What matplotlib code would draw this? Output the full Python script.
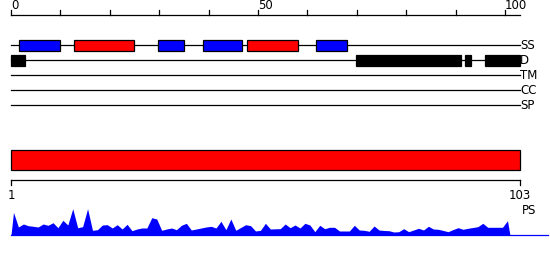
import numpy as np
import matplotlib
matplotlib.use("Agg")
import matplotlib.pyplot as plt
from matplotlib.patches import Rectangle

plt.rcParams["font.family"] = ["Liberation Sans Narrow", "DejaVu Sans"]

seq_len = 103

# secondary structure (SS) segments: start, end, colour
ss_start = [1.6, 12.8, 29.8, 38.9, 47.8, 61.7]
ss_end = [9.9, 24.9, 35.0, 46.8, 58.1, 68.0]
ss_color = ["blue", "red", "blue", "blue", "red", "blue"]

# disorder (D) segments
d_start = [0.0, 69.8, 91.9, 96.0]
d_end = [2.8, 91.1, 93.1, 103.0]

track_names = ["SS", "D", "TM", "CC", "SP"]
track_y = [45, 60, 75, 90, 105]

top_ticks = [0, 10, 20, 30, 40, 50, 60, 70, 80, 90, 100]
top_labels = ["0", "50", "100"]

# per-residue profile (PS), residues 1..101
ps_values = [22.7, 8, 11, 9.3, 8.7, 8, 11, 9.7, 12.3, 7.3,
             14.7, 10, 26.3, 7.3, 8.3, 26.3, 4.7, 5.3, 10, 10.3,
             7, 10.3, 6, 10.7, 4.3, 6, 7, 7, 17.3, 16,
             4.7, 6, 7, 5.3, 9.7, 11.7, 5, 6, 7, 8,
             8.7, 7, 13.7, 5.3, 16, 4.7, 7.5, 10.3, 9.3, 4,
             4.7, 11.7, 6, 6.2, 6.3, 11, 7.3, 10, 7, 11.7,
             10, 3.3, 9.7, 6.3, 7.7, 7.7, 4, 4, 4, 9.7,
             5, 4.7, 3.7, 9, 5, 4.5, 4.3, 3, 3.3, 6.3,
             3.3, 5, 6.7, 5, 8.7, 6, 5.7, 4.5, 3.3, 5.5,
             7.3, 5.7, 6.7, 7.5, 8.3, 11.7, 7.7, 7.7, 7.7, 7.7,
             14.3]

fig = plt.figure(figsize=(5.5, 2.6), dpi=100)
ax = fig.add_axes([0, 0, 1, 1])
scale = 4.94
ax.set_xlim(-11 / scale, (550 - 11) / scale)
ax.set_ylim(260, 0)
ax.axis("off")
lw = 0.9
fs = 8.5

# top ruler
ax.plot([0, seq_len], [15, 15], color="black", lw=lw)
for t in top_ticks:
    ax.plot([t, t], [10, 15], color="black", lw=lw)
for lab in top_labels:
    ax.text(int(lab), 12, lab, ha="left", va="bottom", fontsize=fs)

# tracks
for name, y in zip(track_names, track_y):
    ax.plot([0, seq_len], [y, y], color="black", lw=lw, zorder=1)
    ax.text(seq_len + 0.1, y + 0.5, name, ha="left", va="center", fontsize=fs)

for s, e, c in zip(ss_start, ss_end, ss_color):
    ax.add_patch(Rectangle((s, 40), e - s, 11, facecolor=c, edgecolor="black", lw=lw, zorder=2))
for s, e in zip(d_start, d_end):
    ax.add_patch(Rectangle((s, 55), e - s, 11, facecolor="black", edgecolor="black", lw=lw, zorder=2))

# full-length bar
ax.add_patch(Rectangle((0, 150), seq_len, 20, facecolor="red", edgecolor="black", lw=lw))

# bottom ruler
ax.plot([0, seq_len], [180, 180], color="black", lw=lw)
ax.plot([0, 0], [180, 185], color="black", lw=lw)
ax.plot([seq_len, seq_len], [180, 185], color="black", lw=lw)
ax.text(0, 189, "1", ha="center", va="top", fontsize=fs)
ax.text(seq_len, 189, str(seq_len), ha="center", va="top", fontsize=fs)
ax.text(seq_len + 0.4, 211, "PS", ha="left", va="center", fontsize=fs)

# profile
base = 235
px = np.concatenate([[0], np.arange(1, len(ps_values) + 1) - 0.5, [len(ps_values)]])
py = np.concatenate([[0], ps_values, [0]])
ax.fill_between(px, base, base - py, color="blue", lw=0)
ax.plot([0, 108.7], [base, base], color="blue", lw=lw)

fig.savefig("out.png", dpi=100)
